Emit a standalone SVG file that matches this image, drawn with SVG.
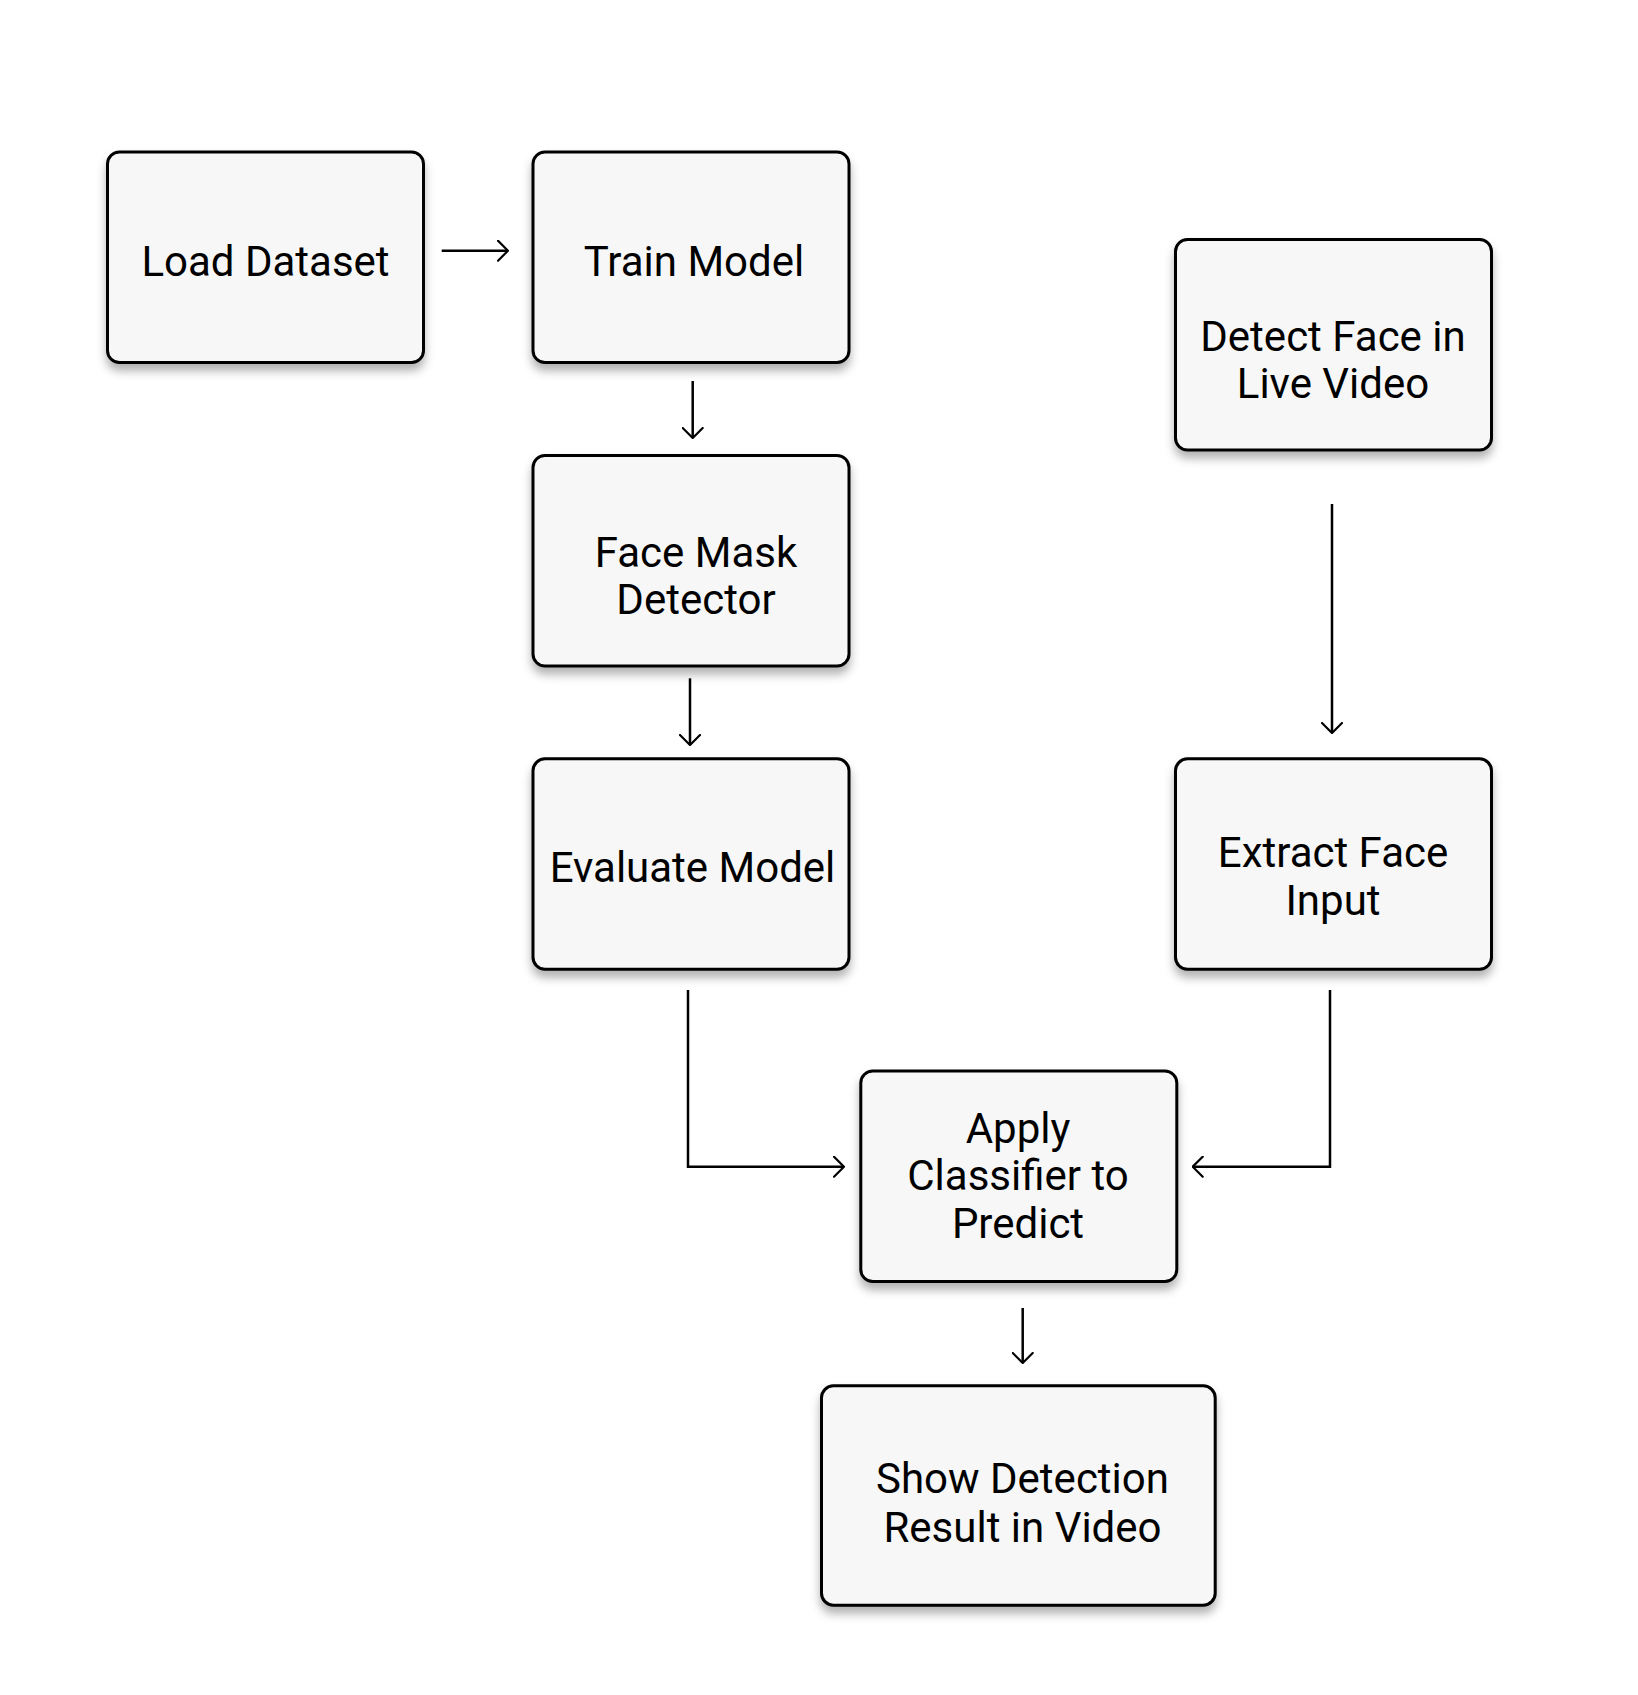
<svg xmlns="http://www.w3.org/2000/svg" width="1638" height="1695" viewBox="0 0 1638 1695">
  <defs>
    <filter id="shadow" x="-10%" y="-10%" width="120%" height="130%">
      <feDropShadow dx="0" dy="7" stdDeviation="5" flood-color="#000" flood-opacity="0.3"/>
    </filter>
    <marker id="arrow" viewBox="0 0 12 22" refX="11" refY="11" markerWidth="12" markerHeight="22" markerUnits="userSpaceOnUse" orient="auto">
      <path d="M1,1 L11,11 L1,21" fill="none" stroke="#000" stroke-width="2.2" stroke-linecap="round" stroke-linejoin="miter"/>
    </marker>
    <style>
      .box { fill: #f7f7f7; stroke: #000; stroke-width: 3; filter: url(#shadow); }
      .label { font-family: Roboto, "Liberation Sans", sans-serif; font-size: 42px; fill: #000; text-anchor: middle; }
      .conn { fill: none; stroke: #000; stroke-width: 2.5; marker-end: url(#arrow); }
    </style>
  </defs>
  <rect width="1638" height="1695" fill="#fff"/>

  <g id="connectors">
    <path class="conn" d="M441.7,250.7 H508"/>
    <path class="conn" d="M692.7,381 V438"/>
    <path class="conn" d="M690,678.3 V745"/>
    <path class="conn" d="M688,990 V1166.7 H844"/>
    <path class="conn" d="M1332,504 V733"/>
    <path class="conn" d="M1330,990 V1166.7 H1192.7"/>
    <path class="conn" d="M1022.7,1308 V1363"/>
  </g>

  <g id="load-dataset">
    <rect class="box" x="107.5" y="152" width="316" height="210.5" rx="12"/>
    <text class="label" x="265.5" y="276">Load Dataset</text>
  </g>
  <g id="train-model">
    <rect class="box" x="533" y="152" width="316" height="210.5" rx="12"/>
    <text class="label" x="694" y="276">Train Model</text>
  </g>
  <g id="face-mask-detector">
    <rect class="box" x="533" y="455.5" width="316" height="210.5" rx="12"/>
    <text class="label" x="696" y="566.7">Face Mask</text>
    <text class="label" x="696" y="614.3">Detector</text>
  </g>
  <g id="evaluate-model">
    <rect class="box" x="533" y="758.8" width="316" height="210.5" rx="12"/>
    <text class="label" x="692.5" y="881.7">Evaluate Model</text>
  </g>
  <g id="detect-face">
    <rect class="box" x="1175.5" y="239.5" width="316" height="210.5" rx="12"/>
    <text class="label" x="1333" y="350.7">Detect Face in</text>
    <text class="label" x="1333" y="398.3">Live Video</text>
  </g>
  <g id="extract-face">
    <rect class="box" x="1175.5" y="758.8" width="316" height="210.5" rx="12"/>
    <text class="label" x="1333" y="866.8">Extract Face</text>
    <text class="label" x="1333" y="915">Input</text>
  </g>
  <g id="apply-classifier">
    <rect class="box" x="860.8" y="1071" width="316" height="210.5" rx="12"/>
    <text class="label" x="1018" y="1142.7">Apply</text>
    <text class="label" x="1018" y="1190">Classifier to</text>
    <text class="label" x="1018" y="1237.5">Predict</text>
  </g>
  <g id="show-result">
    <rect class="box" x="821.5" y="1385.8" width="393.7" height="219.4" rx="12"/>
    <text class="label" x="1022.5" y="1493.3">Show Detection</text>
    <text class="label" x="1022.5" y="1541.7">Result in Video</text>
  </g>
</svg>
